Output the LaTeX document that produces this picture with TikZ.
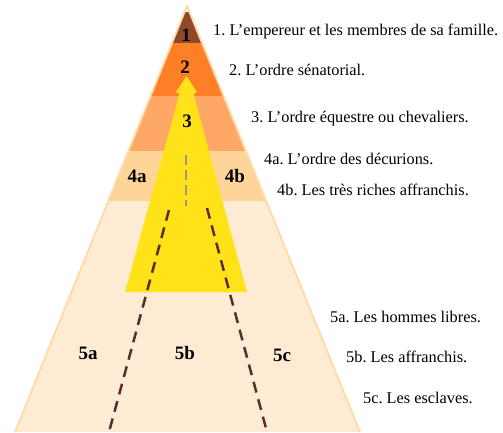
\documentclass[tikz,border=0pt]{standalone}
\usepackage{fontspec}
\setmainfont{Liberation Serif}
\usetikzlibrary{positioning,calc}
\definecolor{emperor}{HTML}{8E4A26}
\definecolor{senate}{HTML}{FF7F27}
\definecolor{equites}{HTML}{FFA866}
\definecolor{decurion}{HTML}{FFD499}
\definecolor{plebs}{HTML}{FEEBD3}
\definecolor{rim}{HTML}{FFD9A6}
\definecolor{freed}{HTML}{FFE318}
\definecolor{split}{HTML}{5C2C2C}
\definecolor{ash}{HTML}{A29292}
\frenchspacing

\begin{document}
\begin{tikzpicture}[x=1pt,y=-1pt,font=\fontsize{16.3}{19}\selectfont,
    lvl/.style={font=\fontsize{19}{21}\selectfont\bfseries,inner sep=0pt},
    note/.style={anchor=west,inner sep=0pt}]
  \useasboundingbox (0,0) rectangle (503,432);
  \coordinate (apex) at (187,6);
  \coordinate (bl) at (15,432);
  \coordinate (br) at (360,432);
  % bands of the pyramid
  \begin{scope}
    \clip (apex) -- (bl) -- (br) -- cycle;
    \fill[plebs] (0,201) rectangle (503,432);
    \fill[decurion] (0,151) rectangle (503,201);
    \fill[equites] (0,96) rectangle (503,151);
    \fill[senate] (0,43) rectangle (503,96);
    \fill[emperor] (0,12) rectangle (503,43);
  \end{scope}
  \draw[rim,line width=1.8pt,line join=round] (bl) -- (apex) -- (br);
  % the way up
  \fill[freed] (125,292) -- (179.5,94) -- (176,92) -- (186.5,76) -- (197,92)
    -- (193.5,94) -- (247,292) -- cycle;
  \draw[ash,line width=2.4pt,dash pattern=on 10pt off 5pt] (186,155) -- (186,206);
  \coordinate (sl) at (169,210); \coordinate (sl') at (109,432);
  \coordinate (sr) at (207,208); \coordinate (sr') at (267,432);
  \draw[split,line width=2.5pt,dash pattern=on 11pt off 7pt] (sl) -- (sl');
  \draw[split,line width=2.5pt,dash pattern=on 11pt off 7pt] (sr) -- (sr');
  % levels
  \node[lvl] (n1) at (186,35) {1};
  \node[lvl] (n2) at (185,67) {2};
  \node[lvl] (n3) at (187,121) {3};
  \node[lvl] (n4a) at (137,176) {4a};
  \node[lvl] (n4b) at (235,176) {4b};
  \node[lvl] (n5a) at (88,353) {5a};
  \node[lvl] (n5b) at (185,353) {5b};
  \node[lvl] (n5c) at (282,355) {5c};
  % legend
  \node[note] (t1) at (213,31) {1. L’empereur et les membres de sa famille.};
  \node[note] (t2) at (229,70) {2. L’ordre sénatorial.};
  \node[note] (t3) at (251,119) {3. L’ordre équestre ou chevaliers.};
  \node[note] (t4a) at (264,159) {4a. L’ordre des décurions.};
  \node[note] (t4b) at (277,190) {4b. Les très riches affranchis.};
  \node[note] (t5a) at (330,317) {5a. Les hommes libres.};
  \node[note] (t5b) at (346,357) {5b. Les affranchis.};
  \node[note] (t5c) at (363,398) {5c. Les esclaves.};
\end{tikzpicture}
\end{document}
